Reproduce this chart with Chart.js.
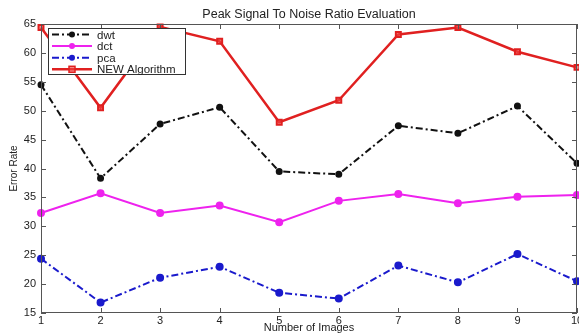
<!DOCTYPE html>
<html>
<head>
<meta charset="utf-8">
<script src="https://cdn.jsdelivr.net/npm/chart.js@4"></script>
<style>
  html, body { margin: 0; padding: 0; background: #fff; }
  #wrap { width: 579px; height: 336px; position: relative; }
</style>
</head>
<body>
<div id="wrap"><canvas id="psnrChart" width="579" height="336"></canvas></div>
<script>
const imageNumbers = ["1", "2", "3", "4", "5", "6", "7", "8", "9", "10"];
const dwtValues = [54.5, 38.3, 47.7, 50.6, 39.5, 39.0, 47.4, 46.1, 50.8, 40.9];
const dctValues = [32.3, 35.7, 32.3, 33.6, 30.7, 34.4, 35.6, 34.0, 35.1, 35.4];
const pcaValues = [24.4, 16.8, 21.1, 23.0, 18.5, 17.5, 23.2, 20.3, 25.2, 20.5];
const newAlgValues = [64.4, 50.5, 64.5, 62.0, 48.0, 51.8, 63.2, 64.4, 60.2, 57.5];
const yTicks = [15, 20, 25, 30, 35, 40, 45, 50, 55, 60, 65];

const axisColor = "#555";
const fontFamily = "'Liberation Sans', Arial, sans-serif";

// MATLAB-style box with inward ticks on all four sides, plus title and legend
const boxTicks = {
    id: "boxTicks",
    afterDraw(chart) {
        const ctx = chart.ctx;
        const a = chart.chartArea;
        const xs = chart.scales.x, ys = chart.scales.y;
        ctx.save();
        ctx.strokeStyle = axisColor;
        ctx.lineWidth = 1;
        ctx.strokeRect(a.left + 0.5, a.top + 0.5, a.right - a.left - 1, a.bottom - a.top - 1);
        ctx.beginPath();
        yTicks.forEach(v => {
            const py = Math.round(ys.getPixelForValue(v)) + 0.5;
            ctx.moveTo(a.left, py); ctx.lineTo(a.left + 5, py);
            ctx.moveTo(a.right, py); ctx.lineTo(a.right - 5, py);
        });
        imageNumbers.forEach((lab, i) => {
            const px = Math.round(xs.getPixelForValue(i)) + 0.5;
            ctx.moveTo(px, a.bottom); ctx.lineTo(px, a.bottom - 5);
            ctx.moveTo(px, a.top); ctx.lineTo(px, a.top + 5);
        });
        ctx.stroke();

        // title
        ctx.fillStyle = "#222";
        ctx.font = "12.5px " + fontFamily;
        ctx.textAlign = "center";
        ctx.textBaseline = "middle";
        ctx.fillText("Peak Signal To Noise Ratio Evaluation", (a.left + a.right) / 2, 15);

        // legend box
        const lx = 48, ly = 28, lw = 137, lh = 46;
        ctx.fillStyle = "#fff";
        ctx.fillRect(lx, ly, lw, lh);
        ctx.strokeStyle = "#333";
        ctx.lineWidth = 1;
        ctx.strokeRect(lx + 0.5, ly + 0.5, lw, lh);
        ctx.textAlign = "left";
        ctx.font = "11.5px " + fontFamily;
        chart.data.datasets.forEach((ds, i) => {
            const cy = ly + 6.5 + i * 11.6;
            ctx.strokeStyle = ds.borderColor;
            ctx.lineWidth = ds.borderWidth;
            ctx.setLineDash(ds.borderDash || []);
            ctx.beginPath();
            ctx.moveTo(lx + 4, cy); ctx.lineTo(lx + 44, cy);
            ctx.stroke();
            ctx.setLineDash([]);
            ctx.lineWidth = 1.5;
            if (ds.pointStyle === "rect") {
                ctx.fillStyle = ds.pointBackgroundColor;
                ctx.fillRect(lx + 21, cy - 3, 6, 6);
                ctx.strokeRect(lx + 21, cy - 3, 6, 6);
            } else {
                ctx.fillStyle = ds.pointBackgroundColor;
                ctx.beginPath();
                ctx.arc(lx + 24, cy, 3, 0, Math.PI * 2);
                ctx.fill();
            }
            ctx.fillStyle = "#222";
            ctx.fillText(ds.label, lx + 49, cy + 1);
        });
        ctx.restore();
    }
};

const ctx = document.getElementById("psnrChart").getContext("2d");
new Chart(ctx, {
    type: "line",
    data: {
        labels: imageNumbers,
        datasets: [
            {
                label: "dwt",
                data: dwtValues,
                borderColor: "#111",
                backgroundColor: "#111",
                pointBackgroundColor: "#111",
                borderWidth: 2,
                borderDash: [7, 3, 2, 3],
                pointRadius: 2.5,
                pointStyle: "circle"
            },
            {
                label: "dct",
                data: dctValues,
                borderColor: "#ee22ee",
                backgroundColor: "#ee22ee",
                pointBackgroundColor: "#ee22ee",
                borderWidth: 2,
                pointRadius: 3,
                pointStyle: "circle"
            },
            {
                label: "pca",
                data: pcaValues,
                borderColor: "#1a1acc",
                backgroundColor: "#1a1acc",
                pointBackgroundColor: "#1a1acc",
                borderWidth: 2,
                borderDash: [7, 3, 2, 3],
                pointRadius: 3,
                pointStyle: "circle"
            },
            {
                label: "NEW Algorithm",
                data: newAlgValues,
                borderColor: "#e02020",
                backgroundColor: "rgba(240,70,70,0.6)",
                pointBackgroundColor: "rgba(240,70,70,0.6)",
                borderWidth: 2.5,
                pointRadius: 3.5,
                pointBorderWidth: 2,
                pointStyle: "rect"
            }
        ]
    },
    options: {
        responsive: false,
        animation: false,
        devicePixelRatio: 1,
        clip: false,
        layout: { autoPadding: false, padding: { top: 24, right: 2, left: 0, bottom: 0 } },
        plugins: {
            legend: { display: false },
            title: { display: false },
            tooltip: { enabled: false }
        },
        scales: {
            x: {
                offset: false,
                grid: { display: false, drawTicks: false, tickLength: 0 },
                border: { display: false },
                ticks: { color: "#222", font: { size: 11, family: fontFamily }, padding: 1, maxRotation: 0, autoSkip: false },
                title: { display: true, text: "Number of Images", color: "#222", font: { size: 11, family: fontFamily }, padding: { top: 0, bottom: 1 } },
                afterFit(scale) {
                    scale.height = 23;
                    scale.paddingLeft = 0;
                    scale.paddingRight = 0;
                }
            },
            y: {
                min: 15,
                max: 65,
                grid: { display: false, drawTicks: false, tickLength: 0 },
                border: { display: false },
                ticks: { stepSize: 5, color: "#222", font: { size: 11, family: fontFamily }, padding: 5 },
                title: { display: true, text: "Error Rate", color: "#222", font: { size: 10, family: fontFamily }, padding: { top: 8, bottom: 0 } },
                afterFit(scale) { scale.width = 41; }
            }
        }
    },
    plugins: [boxTicks]
});
</script>
</body>
</html>
